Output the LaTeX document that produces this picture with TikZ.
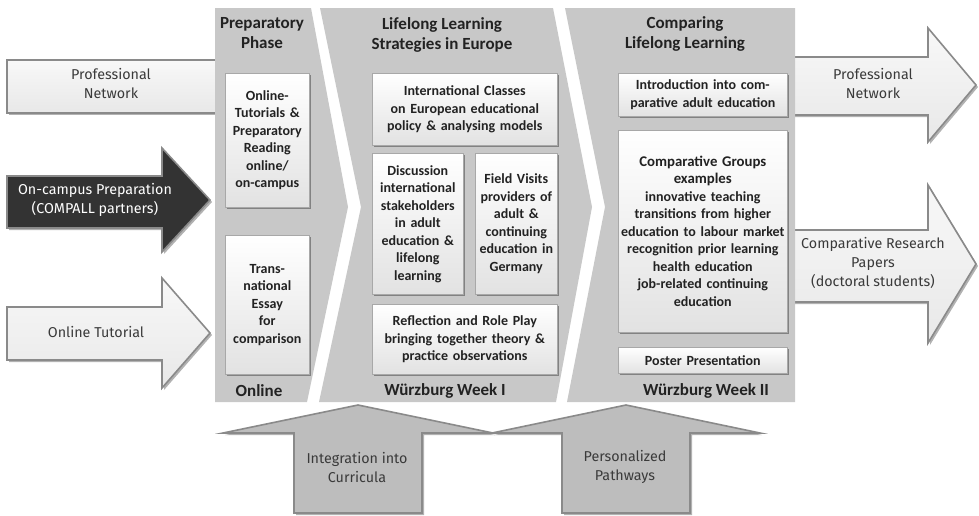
\documentclass[tikz,border=0pt]{standalone}
\usepackage{fontspec}
\setmainfont{Fira Sans}
\newfontfamily\boldfam{Carlito}
\usetikzlibrary{shadows}
\definecolor{panelgray}{HTML}{C8C8C8}
\definecolor{boxbot}{HTML}{E2E2E2}
\definecolor{boxline}{HTML}{A8A8A8}
\definecolor{arrline}{HTML}{8A8A8A}
\definecolor{lighttop}{HTML}{F8F8F8}
\definecolor{lightbot}{HTML}{E8E8E8}
\definecolor{darkfill}{HTML}{333333}
\definecolor{botfill}{HTML}{BDBDBD}
\definecolor{txt}{HTML}{222222}
\definecolor{atxt}{HTML}{3A3A3A}
\begin{document}
\begin{tikzpicture}[x=1pt,y=-1pt,
  every node/.style={inner sep=0pt, text=txt},
  panel/.style={fill=panelgray},
  boxsty/.style={draw=boxline, line width=0.6pt, top color=white, bottom color=boxbot,
    drop shadow={shadow xshift=1.3pt, shadow yshift=-1.3pt, fill=black, opacity=0.35},
    anchor=north west, align=center, font=\boxfont},
  titlesty/.style={align=center, font=\titlefont},
  lightarrow/.style={draw=arrline, line width=1.6pt, line join=miter, top color=lighttop, bottom color=lightbot,
    drop shadow={shadow xshift=2pt, shadow yshift=-2pt, fill=black, opacity=0.3}},
  darkarrow/.style={draw=arrline, line width=1.6pt, fill=darkfill,
    drop shadow={shadow xshift=2pt, shadow yshift=-2pt, fill=black, opacity=0.3}},
  botarrow/.style={draw=arrline, line width=1.6pt, fill=botfill,
    drop shadow={shadow xshift=2pt, shadow yshift=-2pt, fill=black, opacity=0.3}},
  arrtext/.style={align=center, font=\arrfont, text=atxt},
]
\newcommand\boxfont{\boldfam\bfseries\fontsize{14}{17.5}\selectfont}
\newcommand\bigboxfont{\boldfam\bfseries\fontsize{14.8}{17.5}\selectfont}
\newcommand\titlefont{\boldfam\bfseries\fontsize{17}{19.5}\selectfont}
\newcommand\arrfont{\fontsize{14.3}{19}\selectfont}
\useasboundingbox[fill=white] (0,0) rectangle (979,515);

% left arrows
\draw[lightarrow] (7,60) rectangle (218,113);
\draw[darkarrow] (7,176) -- (162,176) -- (162,148) -- (210,200) -- (162,252) -- (162,228) -- (7,228) -- cycle;
\draw[lightarrow] (7,307) -- (162,307) -- (162,278) -- (210,333) -- (162,388) -- (162,360) -- (7,360) -- cycle;
% right arrows
\draw[lightarrow] (790,57) -- (928,57) -- (928,28) -- (976,85) -- (928,142) -- (928,115) -- (790,115) -- cycle;
\draw[lightarrow] (790,230) -- (928,230) -- (928,185) -- (976,264) -- (928,343) -- (928,302) -- (790,302) -- cycle;
% bottom arrows
\draw[botarrow] (294,513) -- (294,433) -- (223,433) -- (358,405) -- (493,433) -- (422,433) -- (422,513) -- cycle;
\draw[botarrow] (562,513) -- (562,433) -- (492,433) -- (626,405) -- (760,433) -- (690,433) -- (690,513) -- cycle;

% panels
\fill[panel] (215,8) -- (311,8) -- (348,207) -- (307,402) -- (215,402) -- cycle;
\fill[panel] (320,8) -- (553,8) -- (592,207) -- (556,402) -- (319,402) -- (361,207) -- cycle;
\fill[panel] (565,8) -- (795,8) -- (795,402) -- (567,402) -- (605,207) -- cycle;

% panel titles and labels
\node[titlesty] (t1) at (262,33) {Preparatory\\Phase};
\node[titlesty] (t2) at (442,35) {Lifelong Learning\\Strategies in Europe};
\node[titlesty] (t3) at (685,34) {Comparing\\Lifelong Learning};
\node[titlesty] (l1) at (259,391) {Online};
\node[titlesty] (l2) at (445,391) {Würzburg Week I};
\node[titlesty] (l3) at (706,391) {Würzburg Week II};

% panel 1 boxes
\node[boxsty, minimum width=84pt, text width=84pt, minimum height=134pt] (b11) at (225,73)
  {Online-\\Tutorials \&\\Preparatory\\Reading\\online/\\on-campus};
\node[boxsty, minimum width=84pt, text width=84pt, minimum height=139pt] (b12) at (225,235)
  {Trans-\\national\\Essay\\for\\comparison};
% panel 2 boxes
\node[boxsty, minimum width=185pt, text width=185pt, minimum height=72pt] (b21) at (372,73)
  {International Classes\\on European educational\\policy \& analysing models};
\node[boxsty, minimum width=91pt, text width=91pt, minimum height=141pt] (b22) at (372,153)
  {Discussion\\international\\stakeholders\\in adult\\education \&\\lifelong\\learning};
\node[boxsty, minimum width=82pt, text width=82pt, minimum height=141pt] (b23) at (475,153)
  {Field Visits\\providers of\\adult \&\\continuing\\education in\\Germany};
\node[boxsty, minimum width=185pt, text width=185pt, minimum height=70pt] (b24) at (372,304)
  {Reflection and Role Play\\bringing together theory \&\\practice observations};
% panel 3 boxes
\node[boxsty, minimum width=169pt, text width=169pt, minimum height=43pt] (b31) at (618,73)
  {Introduction into com-\\parative adult education};
\node[boxsty, minimum width=169pt, text width=169pt, minimum height=202pt] (b32) at (618,130)
  {{\bigboxfont Comparative Groups\\examples\\}innovative teaching\\transitions from higher\\education to labour market\\recognition prior learning\\health education\\job-related continuing\\education};
\node[boxsty, minimum width=169pt, text width=169pt, minimum height=26pt] (b33) at (618,347)
  {Poster Presentation};

% arrow texts
\node[arrtext] (a1) at (111,84) {Professional\\Network};
\node[arrtext, text=white] (a2) at (95,200) {On-campus Preparation\\(COMPALL partners)};
\node[arrtext] (a3) at (96,332) {Online Tutorial};
\node[arrtext] (a4) at (873,84) {Professional\\Network};
\node[arrtext] (a5) at (873,263) {Comparative Research\\Papers\\(doctoral students)};
\node[arrtext] (a6) at (357,467) {Integration into\\Curricula};
\node[arrtext] (a7) at (625,467) {Personalized\\Pathways};
\end{tikzpicture}
\end{document}
